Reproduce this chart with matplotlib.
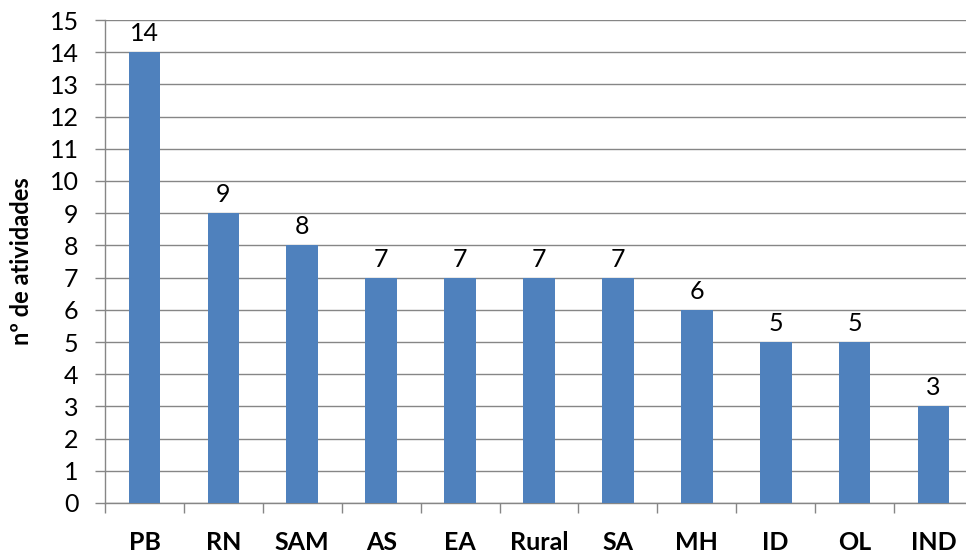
import matplotlib
matplotlib.use("Agg")
import matplotlib.pyplot as plt
import numpy as np

categories = ["PB", "RN", "SAM", "AS", "EA", "Rural", "SA", "MH", "ID", "OL", "IND"]
values = [14, 9, 8, 7, 7, 7, 7, 6, 5, 5, 3]
y_ticks = list(range(0, 16))

plt.rcParams['font.family'] = ['Lato', 'DejaVu Sans']

W, H = 966, 554
fig = plt.figure(figsize=(W/100, H/100), dpi=100)
left, right, bottom, top = 105, 973, 503, 20
ax = fig.add_axes([left/W, 1 - bottom/H, (right-left)/W, (bottom-top)/H])

grid_c = "#868686"
x = np.arange(len(categories))
bars = ax.bar(x, values, width=0.4, color="#4F81BD", zorder=3)
ax.set_xlim(-0.5, len(categories) - 0.5)
ax.set_ylim(0, 15)
ax.set_yticks(y_ticks)
ax.yaxis.grid(True, color=grid_c, linewidth=1, zorder=0)
ax.set_axisbelow(True)

ax.set_xticks(np.arange(-0.5, len(categories) + 0.5, 1))
ax.set_xticklabels([])
ax.set_xticks(x, minor=True)
ax.set_xticklabels(categories, minor=True, fontsize=18, fontweight='bold')
ax.tick_params(axis='x', which='minor', length=0, pad=20)
ax.tick_params(axis='x', which='major', length=7, width=1, color=grid_c, direction='out')
ax.tick_params(axis='y', length=7, width=1, color=grid_c, direction='out', labelsize=18, pad=12)

for s in ['top', 'right']:
    ax.spines[s].set_visible(False)
for s in ['left', 'bottom']:
    ax.spines[s].set_color(grid_c)
    ax.spines[s].set_linewidth(1)

ax.bar_label(bars, labels=[str(v) for v in values], padding=5, fontsize=18)
ax.set_ylabel("nº de atividades", fontsize=17, fontweight='bold', labelpad=12)

fig.savefig("out.png", dpi=100)
